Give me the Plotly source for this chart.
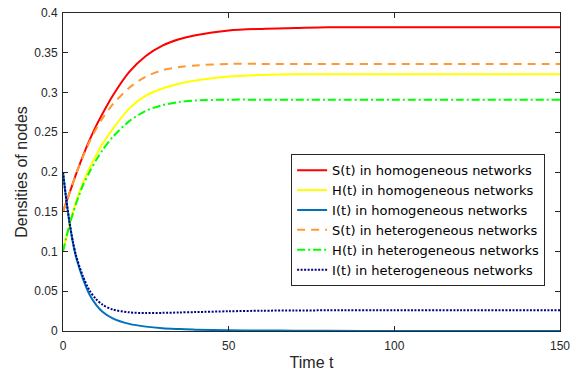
import plotly.graph_objects as go

# Time samples and densities read for each compartment
t = [0, 1, 2, 3, 4, 6, 8, 10, 12, 15, 20, 25, 30, 35, 40, 50, 60, 70, 80, 100, 120, 150]

s_hom = [0.150, 0.162, 0.174, 0.186, 0.198, 0.220, 0.240, 0.258, 0.274, 0.296, 0.326, 0.346,
         0.359, 0.367, 0.372, 0.378, 0.380, 0.381, 0.382, 0.382, 0.382, 0.382]
h_hom = [0.100, 0.118, 0.135, 0.150, 0.163, 0.186, 0.205, 0.221, 0.236, 0.254, 0.280, 0.296,
         0.305, 0.311, 0.315, 0.320, 0.322, 0.323, 0.323, 0.323, 0.323, 0.323]
i_hom = [0.200, 0.165, 0.135, 0.111, 0.092, 0.066, 0.046, 0.033, 0.024, 0.016, 0.009, 0.0055,
         0.0035, 0.0025, 0.0017, 0.0010, 0.0006, 0.0004, 0.0002, 0.0001, 0.0001, 0.0000]
s_het = [0.150, 0.162, 0.174, 0.186, 0.198, 0.219, 0.238, 0.254, 0.268, 0.285, 0.306, 0.320,
         0.328, 0.332, 0.334, 0.336, 0.336, 0.336, 0.336, 0.336, 0.336, 0.336]
h_het = [0.100, 0.118, 0.134, 0.148, 0.161, 0.183, 0.200, 0.215, 0.228, 0.244, 0.264, 0.277,
         0.284, 0.288, 0.290, 0.291, 0.291, 0.291, 0.291, 0.291, 0.291, 0.291]
i_het = [0.200, 0.165, 0.136, 0.112, 0.094, 0.069, 0.051, 0.040, 0.033, 0.027, 0.0235, 0.0225,
         0.0228, 0.0233, 0.0238, 0.0248, 0.0255, 0.0258, 0.0260, 0.0260, 0.0260, 0.0260]

series = [
    ("S(t) in homogeneous networks", s_hom, "#FF0000", "solid"),
    ("H(t) in homogeneous networks", h_hom, "#FFFF00", "solid"),
    ("I(t) in homogeneous networks", i_hom, "#0072BD", "solid"),
    ("S(t) in heterogeneous networks", s_het, "#FF9933", "8px,6px"),
    ("H(t) in heterogeneous networks", h_het, "#00FF00", "8px,3px,2px,3px"),
    ("I(t) in heterogeneous networks", i_het, "#000080", "2px,1.5px"),
]

fig = go.Figure()
for name, y, color, dash in series:
    fig.add_trace(go.Scatter(
        x=t, y=y, name=name, mode="lines",
        line=dict(color=color, width=2, dash=dash, shape="spline", smoothing=0.8),
    ))

axis_color = "#262626"
font_family = "Liberation Sans, Arial"
common = dict(
    showgrid=False, zeroline=False, showline=True, linecolor=axis_color, linewidth=1,
    mirror="ticks", ticks="inside", ticklen=5, tickcolor=axis_color, automargin=False,
    tickfont=dict(family=font_family, size=12, color=axis_color),
)

fig.update_layout(
    width=577, height=372,
    margin=dict(l=63, r=17, t=13, b=41),
    paper_bgcolor="white", plot_bgcolor="white",
    xaxis=dict(range=[0, 150], tickvals=[0, 50, 100, 150], ticklabelstandoff=4,
               title=dict(text="Time t", standoff=4,
                          font=dict(family=font_family, size=16, color=axis_color)),
               **common),
    yaxis=dict(range=[0, 0.4], tickvals=[0, 0.05, 0.1, 0.15, 0.2, 0.25, 0.3, 0.35, 0.4],
               ticktext=["0", "0.05", "0.1", "0.15", "0.2", "0.25", "0.3", "0.35", "0.4"],
               ticklabelstandoff=2,
               title=dict(text="Densities of nodes", standoff=2,
                          font=dict(family=font_family, size=16, color=axis_color)),
               **common),
    legend=dict(
        x=0.459, y=0.556, xanchor="left", yanchor="top",
        bgcolor="white", bordercolor=axis_color, borderwidth=1,
        font=dict(family="DejaVu Sans", size=13, color="#000000"),
        tracegroupgap=0, itemwidth=30,
    ),
    showlegend=True,
)

fig.write_html("out.html")
